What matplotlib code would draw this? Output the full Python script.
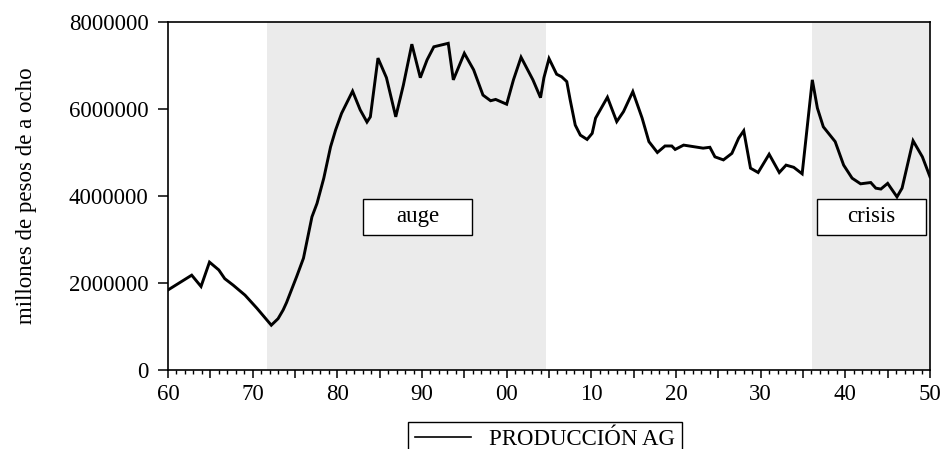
import matplotlib
matplotlib.use("Agg")
import matplotlib.pyplot as plt
from matplotlib.patches import Rectangle
from matplotlib.ticker import MultipleLocator, FixedLocator, FixedFormatter

plt.rcParams['font.family'] = ['Liberation Serif', 'DejaVu Serif']

# Data (years, values in pesos)
years = [1760.0, 1762.8, 1763.9, 1764.9, 1766.0, 1766.7, 1767.7, 1769.1, 1770.5,
         1772.2, 1773.0, 1773.6, 1774.0, 1774.5, 1775.2, 1776.0, 1777.0, 1777.6,
         1778.4, 1779.2, 1779.8, 1780.5, 1781.8, 1782.7, 1783.5, 1783.9, 1784.8,
         1785.8, 1786.9, 1787.8, 1788.8, 1789.8, 1790.6, 1791.4, 1793.1, 1793.7,
         1795.0, 1796.1, 1797.2, 1798.1, 1798.7, 1800.0, 1800.8, 1801.7, 1803.1,
         1804.0, 1804.4, 1805.0, 1805.9, 1806.5, 1807.1, 1807.5, 1808.1, 1808.7,
         1809.5, 1810.1, 1810.5, 1811.9, 1813.0, 1813.8, 1814.9, 1816.0, 1816.8,
         1817.8, 1818.7, 1819.5, 1819.9, 1820.9, 1823.2, 1824.0, 1824.6, 1825.6,
         1826.6, 1827.4, 1828.0, 1828.8, 1829.7, 1831.0, 1832.2, 1833.0, 1833.9,
         1834.9, 1836.1, 1836.7, 1837.4, 1838.8, 1839.8, 1840.8, 1841.8, 1843.0,
         1843.6, 1844.2, 1845.0, 1846.1, 1846.7, 1848.0, 1849.1, 1850.0]
produccion_m = [1.84, 2.18, 1.92, 2.48, 2.30, 2.10, 1.95, 1.72, 1.42,
                1.03, 1.18, 1.38, 1.55, 1.80, 2.15, 2.57, 3.52, 3.83,
                4.41, 5.13, 5.52, 5.90, 6.41, 5.98, 5.70, 5.82, 7.17,
                6.72, 5.82, 6.55, 7.49, 6.72, 7.13, 7.43, 7.51, 6.67,
                7.28, 6.90, 6.32, 6.19, 6.22, 6.11, 6.67, 7.19, 6.67,
                6.26, 6.72, 7.16, 6.80, 6.74, 6.63, 6.21, 5.63, 5.40,
                5.30, 5.44, 5.79, 6.27, 5.71, 5.94, 6.40, 5.79, 5.25,
                5.00, 5.15, 5.15, 5.07, 5.17, 5.10, 5.12, 4.90, 4.83,
                4.98, 5.33, 5.50, 4.64, 4.54, 4.96, 4.54, 4.71, 4.66,
                4.51, 6.67, 6.02, 5.59, 5.25, 4.71, 4.41, 4.28, 4.31,
                4.18, 4.16, 4.29, 3.98, 4.18, 5.27, 4.90, 4.44]
produccion = [v * 1e6 for v in produccion_m]

periods = [(1771.7, 1804.6, "auge", 1789.5), (1836.1, 1850.0, "crisis", 1843.1)]
y_ticks = [0, 2000000, 4000000, 6000000, 8000000]

FS = 16.5
fig = plt.figure(figsize=(9.42, 4.49), dpi=100)
ax = fig.add_axes([168/942, (449-370)/449, 762/942, 348/449])

for x0, x1, lab, xc in periods:
    ax.axvspan(x0, x1, color="#ebebeb", lw=0, zorder=0)

ax.plot(years, produccion, color="black", lw=2.1, zorder=3, label="PRODUCCIÓN AG",
        solid_joinstyle="miter")

box_w, box_h, box_yc = 12.9, 0.84e6, 3.52e6
for x0, x1, lab, xc in periods:
    ax.add_patch(Rectangle((xc - box_w/2, box_yc - box_h/2), box_w, box_h,
                           facecolor="white", edgecolor="black", lw=1.0, zorder=4))
    ax.text(xc, box_yc, lab, ha="center", va="center", fontsize=FS, zorder=5)

ax.set_xlim(1760, 1850)
ax.set_ylim(0, 8000000)
lbls = []
for t in range(1760, 1851, 5):
    lbls.append("%02d" % (t % 100) if t % 10 == 0 else "")
ax.xaxis.set_major_locator(FixedLocator(list(range(1760, 1851, 5))))
ax.xaxis.set_major_formatter(FixedFormatter(lbls))
ax.xaxis.set_minor_locator(MultipleLocator(1))
ax.set_yticks(y_ticks)
ax.set_yticklabels([str(v) for v in y_ticks])
ax.tick_params(axis="x", which="major", length=6, width=1.1, labelsize=FS, pad=4, direction="out")
ax.tick_params(axis="x", which="minor", length=3, width=1.0, direction="out")
ax.tick_params(axis="y", which="major", length=7, width=1.1, labelsize=FS, pad=7, direction="out")
for s in ax.spines.values():
    s.set_linewidth(1.2)
    s.set_color("black")

fig.text(26.7/942, (449-196)/449, "millones de pesos de a ocho", rotation=90,
         ha="center", va="center", fontsize=FS)

leg = ax.legend(loc="upper left", bbox_to_anchor=(408/942, (449-421.7)/449),
                bbox_transform=fig.transFigure, borderaxespad=0, fancybox=False,
                edgecolor="black", framealpha=1, fontsize=FS, handlelength=2.45,
                handletextpad=0.8, borderpad=0.3)
leg.get_frame().set_linewidth(1.0)
for l in leg.get_lines():
    l.set_linewidth(1.2)

fig.savefig("out.png", dpi=100)
